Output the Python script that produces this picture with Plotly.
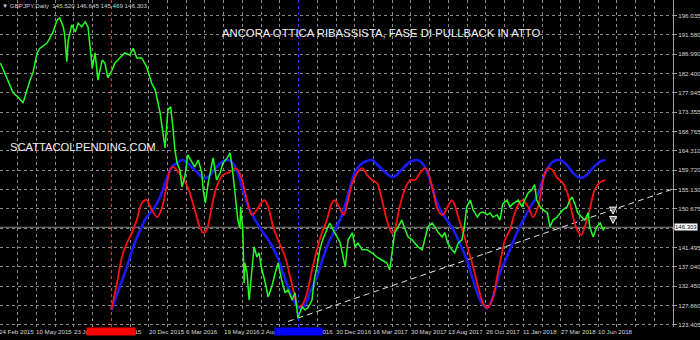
import plotly.graph_objects as go

# ---------------- data ----------------
symbol_info = "\u25bc GBPJPY,Daily  145.520 146.645 145.469 146.303"
title_text = "ANCORA OTTICA RIBASSISTA, FASE DI PULLBACK IN ATTO"
watermark = "SCATTACOLPENDING.COM"

date_labels = ["24 Feb 2015", "10 May 2015", "23 Jul 2015", "5 Oct 2015", "20 Dec 2015",
               "6 Mar 2016", "19 May 2016", "2 Aug 2016", "16 Oct 2016", "30 Dec 2016",
               "16 Mar 2017", "30 May 2017", "13 Aug 2017", "26 Oct 2017", "11 Jan 2018",
               "27 Mar 2018", "10 Jun 2018"]
date_label_bars = [0, 53, 106, 159, 212, 265, 318, 371, 424, 477, 530, 583, 636, 689, 742, 795, 848]

price_ticks = [196.035, 191.580, 186.990, 182.400, 177.945, 173.355, 168.765, 164.310,
               159.720, 155.130, 150.675, 146.085, 141.495, 137.040, 132.450, 127.860, 123.405]
last_price = 146.303

price_bar = [2, 11, 20, 27, 34, 44, 48, 54, 58, 68, 76, 82, 86, 91, 93, 96, 98, 103, 108, 112,
             117, 122, 126, 132, 136, 140, 146, 150, 154, 160, 164, 171, 178, 185, 190, 195, 202,
             209, 216, 221, 224, 228, 232, 235, 239, 243, 246, 249, 252, 256, 259, 263, 267, 273,
             277, 282, 287, 289, 292, 296, 301, 303, 308, 313, 317, 323, 327, 330, 334, 337, 338,
             341, 342, 345, 347, 348, 351, 354, 358, 361, 365, 368, 372, 376, 381, 386, 391, 395,
             400, 405, 409, 415, 419, 422, 423, 429, 433, 437, 443, 446, 450, 454, 458, 464, 468,
             473, 478, 483, 487, 490, 494, 500, 504, 508, 514, 521, 528, 535, 542, 549, 553, 556,
             560, 565, 570, 575, 579, 585, 589, 593, 599, 603, 607, 613, 617, 621, 627, 631, 635,
             641, 645, 650, 655, 658, 662, 667, 671, 677, 681, 685, 691, 695, 699, 705, 709, 713,
             719, 723, 727, 735, 740, 744, 749, 754, 758, 761, 766, 770, 776, 780, 784, 790, 794,
             798, 804, 808, 811, 815, 819, 825, 829, 834, 836, 841, 846, 851, 855, 858]
price_close = [184.9, 181.6, 177.9, 176.9, 175.5, 180.9, 182.6, 187.3, 188.4, 189.6, 192.0, 195.0,
               195.5, 193.4, 191.5, 185.2, 190.3, 193.9, 192.2, 194.3, 193.4, 194.6, 193.4, 183.7,
               187.3, 180.9, 185.6, 184.9, 181.4, 183.3, 184.9, 186.1, 187.3, 186.8, 188.4, 186.1,
               186.1, 184.0, 180.2, 178.6, 176.2, 173.2, 168.5, 165.0, 173.9, 174.6, 169.9, 164.5,
               161.4, 159.8, 155.8, 158.1, 163.3, 161.7, 160.5, 162.1, 159.1, 155.1, 152.0, 156.7,
               160.9, 162.6, 157.4, 159.1, 161.4, 162.6, 163.8, 160.5, 154.4, 150.4, 148.0, 146.1,
               151.1, 145.7, 133.2, 137.9, 135.6, 129.2, 137.0, 141.7, 139.3, 140.3, 136.3, 133.9,
               129.9, 132.3, 135.6, 137.9, 133.9, 130.9, 131.6, 129.2, 130.9, 126.2, 125.0, 127.6,
               126.9, 127.3, 129.2, 133.9, 137.0, 141.0, 143.3, 145.7, 147.3, 145.7, 144.0, 142.6,
               139.3, 137.0, 143.3, 145.0, 141.7, 142.6, 141.0, 141.0, 140.3, 139.3, 138.6, 137.9,
               136.3, 140.3, 145.0, 146.4, 148.0, 145.7, 144.0, 143.3, 142.6, 141.7, 141.0, 144.0,
               146.4, 147.3, 146.4, 145.2, 144.0, 145.0, 142.6, 141.0, 140.3, 142.6, 143.3, 145.7,
               151.1, 152.7, 150.4, 148.7, 149.7, 149.9, 149.2, 149.7, 148.7, 149.2, 148.0, 151.8,
               152.7, 151.1, 151.8, 152.7, 151.1, 152.7, 154.4, 155.1, 156.3, 152.7, 151.1, 150.4,
               149.7, 146.4, 148.0, 148.7, 149.7, 150.4, 151.1, 152.7, 153.4, 151.8, 149.7, 148.7,
               148.0, 149.7, 146.4, 144.0, 146.4, 147.3, 145.7, 146.3]

red_bar = [159, 167, 174, 181, 188, 195, 202, 209, 216, 224, 231, 238, 242, 246, 249, 259, 267,
           277, 284, 289, 294, 301, 308, 317, 327, 334, 338, 344, 351, 358, 365, 372, 376, 381,
           388, 395, 405, 412, 419, 423, 429, 436, 443, 450, 457, 464, 471, 475, 480, 488, 493,
           500, 507, 514, 521, 528, 535, 542, 549, 556, 560, 567, 575, 582, 589, 596, 603, 607,
           614, 621, 628, 635, 641, 645, 650, 657, 664, 671, 678, 685, 691, 698, 705, 712, 716,
           723, 730, 737, 741, 749, 756, 763, 768, 773, 777, 783, 790, 797, 804, 811, 818, 824,
           829, 836, 843, 851, 858]
red_val = [126.9, 133.2, 139.3, 142.6, 145.0, 148.0, 152.0, 152.7, 150.4, 148.7, 151.1, 156.7,
           159.8, 160.5, 160.2, 158.1, 155.8, 150.4, 146.4, 145.0, 145.7, 151.1, 155.8, 158.6,
           159.3, 160.2, 159.8, 157.4, 152.7, 149.2, 150.4, 152.2, 152.7, 151.1, 146.4, 143.3,
           139.3, 134.6, 129.9, 127.6, 128.0, 130.9, 136.3, 141.0, 145.0, 148.0, 152.0, 152.7,
           151.5, 149.2, 152.0, 156.7, 159.1, 160.2, 158.6, 157.4, 156.7, 152.7, 148.0, 145.0,
           145.7, 151.1, 155.5, 157.4, 157.4, 159.1, 160.2, 159.3, 155.1, 150.4, 149.2, 151.1,
           152.7, 151.5, 148.7, 145.0, 141.0, 137.0, 132.3, 128.5, 127.3, 129.2, 134.6, 140.3,
           143.3, 145.7, 149.7, 152.2, 152.7, 151.1, 148.7, 151.1, 155.8, 159.1, 160.2, 159.8,
           157.9, 156.9, 154.6, 149.7, 145.7, 144.5, 146.4, 150.4, 155.1, 156.9, 157.4]

blue_bar = [159, 171, 181, 190, 200, 209, 218, 228, 238, 245, 252, 260, 270, 280, 289, 296, 306,
            316, 324, 331, 338, 345, 355, 365, 374, 384, 394, 402, 412, 419, 426, 433, 440, 450,
            459, 468, 478, 487, 497, 504, 511, 518, 528, 536, 546, 556, 563, 572, 582, 592, 599,
            606, 613, 620, 627, 634, 643, 652, 662, 671, 681, 691, 699, 709, 716, 723, 733, 742,
            752, 761, 768, 775, 784, 794, 804, 812, 822, 832, 840, 850, 858]
blue_val = [126.9, 132.3, 137.0, 141.7, 145.7, 148.7, 150.4, 153.4, 158.1, 160.5, 161.4, 162.1,
            160.9, 159.3, 157.9, 158.1, 160.2, 161.7, 162.1, 161.4, 159.1, 155.1, 150.4, 147.3,
            145.0, 142.6, 139.3, 135.6, 130.9, 128.5, 127.3, 128.0, 130.9, 134.6, 139.3, 143.3,
            146.4, 149.9, 155.8, 159.3, 160.9, 161.7, 162.1, 160.9, 159.3, 158.1, 158.6, 160.2,
            161.7, 162.1, 161.4, 159.3, 155.8, 152.0, 149.7, 148.0, 145.7, 142.6, 138.6, 133.9,
            129.2, 127.3, 129.9, 135.6, 138.2, 141.0, 145.0, 148.0, 151.1, 153.4, 156.7, 159.8,
            161.7, 162.1, 160.9, 159.1, 157.9, 158.6, 160.2, 161.7, 162.1]

trend_bar = [409, 954]
trend_val = [124.15, 155.3]

red_vline_bar = 159
blue_vline_bar = 424

arrow_bar = [869, 869]
arrow_val = [149.4, 147.2]

# ---------------- figure ----------------
FONT = "Liberation Sans, Arial, sans-serif"
X_RANGE = [1.415, 953.9]
fig = go.Figure()

fig.add_trace(go.Scatter(x=trend_bar, y=trend_val, mode="lines",
                         line=dict(color="#e6e6e6", width=1, dash="6px,4px"),
                         hoverinfo="skip", showlegend=False))
fig.add_trace(go.Scatter(x=blue_bar, y=blue_val, mode="lines",
                         line=dict(color="#1a1aff", width=2.6, shape="spline", smoothing=0.9),
                         showlegend=False))
fig.add_trace(go.Scatter(x=red_bar, y=red_val, mode="lines",
                         line=dict(color="#ff1010", width=1.8, shape="spline", smoothing=0.9),
                         showlegend=False))
fig.add_trace(go.Scatter(x=price_bar, y=price_close, mode="lines",
                         line=dict(color="#22ff22", width=1.5), showlegend=False))
fig.add_trace(go.Scatter(x=arrow_bar, y=arrow_val, mode="markers",
                         marker=dict(symbol="arrow-down", size=7, color="#7a7a7a",
                                     line=dict(color="#f0f0f0", width=1)),
                         showlegend=False))

shapes = [
    dict(type="line", xref="paper", yref="y", x0=0, x1=1, y0=last_price, y1=last_price,
         line=dict(color="#8a8a8a", width=1.2), layer="below"),
    dict(type="line", xref="x", yref="paper", x0=red_vline_bar, x1=red_vline_bar, y0=0, y1=1,
         line=dict(color="#ff2020", width=1, dash="dot")),
    dict(type="line", xref="x", yref="paper", x0=blue_vline_bar, x1=blue_vline_bar, y0=0, y1=1,
         line=dict(color="#3030ff", width=1, dash="dot")),
]

annotations = []
for lab, b in zip(date_labels, date_label_bars):
    xs = -1
    if b < X_RANGE[0]:
        xs = -1 - (X_RANGE[0] - b) * 673 / (X_RANGE[1] - X_RANGE[0])
        b = X_RANGE[0]
    annotations.append(dict(x=b, y=0, xref="x", yref="paper", text=lab, showarrow=False,
                            xanchor="left", yanchor="middle", yshift=-4, xshift=xs,
                            borderpad=0, font=dict(family=FONT, size=6.2, color="#d8d8d8")))
# coloured date boxes of the two vertical lines
annotations.append(dict(x=red_vline_bar, y=0, xref="x", yref="paper", text="&nbsp;",
                        showarrow=False, xanchor="center", yanchor="middle", yshift=-4,
                        width=48, height=7, borderpad=0, bgcolor="#ff0000",
                        font=dict(family=FONT, size=6, color="#b00000")))
annotations.append(dict(x=blue_vline_bar, y=0, xref="x", yref="paper", text="&nbsp;",
                        showarrow=False, xanchor="center", yanchor="middle", yshift=-4,
                        width=47, height=7, borderpad=0, bgcolor="#0000ff",
                        font=dict(family=FONT, size=6, color="#0000b0")))
annotations.append(dict(x=1, y=last_price, xref="paper", yref="y", text=f"{last_price:.3f}",
                        showarrow=False, xanchor="left", yanchor="middle", xshift=1,
                        borderpad=0, bgcolor="#ffffff",
                        font=dict(family=FONT, size=6, color="#000000")))
annotations.append(dict(x=0, y=1, xref="paper", yref="paper", text=symbol_info, showarrow=False,
                        xanchor="left", yanchor="top", xshift=1, yshift=-1, borderpad=0,
                        font=dict(family=FONT, size=6.2, color="#d0d0d0")))
annotations.append(dict(x=381 / 673, y=1 - 33 / 327, xref="paper", yref="paper", text=title_text,
                        showarrow=False, xanchor="center", yanchor="middle", borderpad=0,
                        font=dict(family=FONT, size=11.3, color="#f0f0f0")))
annotations.append(dict(x=10 / 673, y=1 - 147 / 327, xref="paper", yref="paper", text=watermark,
                        showarrow=False, xanchor="left", yanchor="middle", borderpad=0, xshift=-1,
                        font=dict(family=FONT, size=11.2, color="#f0f0f0")))

# the tick label hidden behind the current-price box is left blank
tick_text = ["" if abs(v - last_price) < 1 else f"{v:.3f}" for v in price_ticks]

fig.update_layout(
    width=700, height=340,
    margin=dict(l=0, r=27, t=0, b=13),
    paper_bgcolor="#000000", plot_bgcolor="#000000",
    shapes=shapes, annotations=annotations,
    showlegend=False, hovermode=False,
    xaxis=dict(range=X_RANGE, tickmode="linear", tick0=0, dtick=26.5,
               showticklabels=False, showgrid=True, gridcolor="#8a8a8a", griddash="dot",
               gridwidth=1, zeroline=False, showline=False, ticks=""),
    yaxis=dict(range=[122.85, 199.73], side="right", tickmode="array",
               tickvals=price_ticks, ticktext=tick_text,
               showgrid=True, gridcolor="#8a8a8a", griddash="dot", gridwidth=1,
               zeroline=False, showline=True, linecolor="#a0a0a0", linewidth=1,
               ticks="outside", ticklen=3, tickcolor="#a0a0a0",
               tickfont=dict(family=FONT, size=6.2, color="#d8d8d8")),
)

fig.write_html("out.html")
